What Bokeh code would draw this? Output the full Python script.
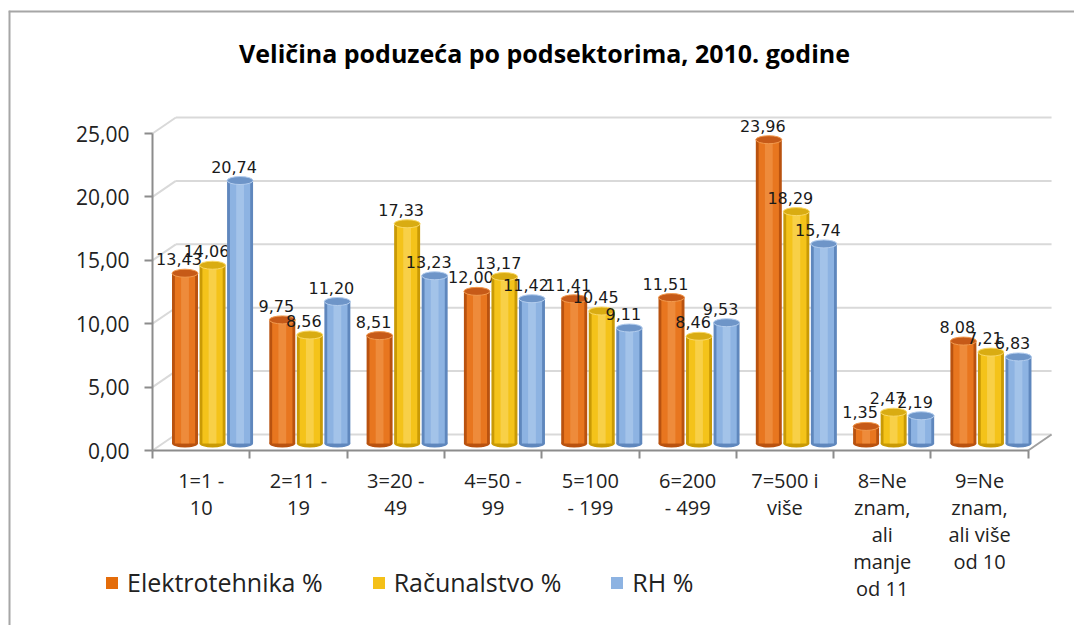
from bokeh.plotting import figure
from bokeh.models import Range1d, LinearAxis, FixedTicker, Legend, LegendItem, ColumnDataSource
from bokeh.core.properties import value
from bokeh.embed import file_html
from bokeh.resources import INLINE

# ---- data ----
categories = ["1=1 -\n10", "2=11 -\n19", "3=20 -\n49", "4=50 -\n99", "5=100\n- 199",
              "6=200\n- 499", "7=500 i\nviše", "8=Ne\nznam,\nali\nmanje\nod 11",
              "9=Ne\nznam,\nali više\nod 10"]
series_names = ["Elektrotehnika %", "Računalstvo %", "RH %"]
elektrotehnika = [13.43, 9.75, 8.51, 12.00, 11.41, 11.51, 23.96, 1.35, 8.08]
racunalstvo = [14.06, 8.56, 17.33, 13.17, 10.45, 8.46, 18.29, 2.47, 7.21]
rh = [20.74, 11.20, 13.23, 11.42, 9.11, 9.53, 15.74, 2.19, 6.83]
y_ticks = [0, 5, 10, 15, 20, 25]
y_tick_labels = ["0,00", "5,00", "10,00", "15,00", "20,00", "25,00"]
title_text = "Veličina poduzeća po podsektorima, 2010. godine"

# ---- styles ----
main_cols = ["#E8761F", "#F4C31A", "#8DB3E2"]
dark_cols = ["#B9520F", "#C99A05", "#5F87BD"]
light_cols = ["#F29A4E", "#FAD865", "#B3CDEE"]
cap_cols = ["#C65A18", "#D9AC12", "#6E95C8"]
legend_cols = ["#E46C0A", "#F4C018", "#8DB3E2"]
FONT = "Open Sans"
N = len(categories)
PX_X = 97.3      # px per category
PX_Y = 12.68     # px per unit
W, H = 1074, 625
FL, FT = 8, 10   # frame offset on canvas (border position)
ORIG_X, ORIG_Y = 152, 450   # canvas px of axis origin
DEPTH_X, DEPTH_Y = 0.24, 1.26
BAR_SHIFT_X, BAR_LIFT_Y = 0.117, 0.55
BAR_W, BAR_STEP = 0.267, 0.283

x0 = -(ORIG_X - FL) / PX_X
x1 = (W - ORIG_X) / PX_X
y1 = (ORIG_Y - FT) / PX_Y
y0 = -(H - ORIG_Y) / PX_Y

p = figure(width=W, height=H, output_backend="svg", toolbar_location=None,
           x_range=Range1d(x0, x1), y_range=Range1d(y0, y1),
           min_border_left=FL, min_border_right=0, min_border_top=FT,
           min_border_bottom=0, x_axis_type=None, y_axis_type=None)
p.extra_x_ranges = {"bars": Range1d(x0 - BAR_SHIFT_X, x1 - BAR_SHIFT_X)}
p.extra_y_ranges = {"bars": Range1d(y0 - BAR_LIFT_Y, y1 - BAR_LIFT_Y)}
p.outline_line_color = None
p.xgrid.visible = False
p.ygrid.visible = False

# chart-area border (left and top edges of the frame)
p.segment(x0=[x0, x0], y0=[y0, y1], x1=[x0, x1], y1=[y1, y1],
          line_color="#a6a6a6", line_width=4)

# title
p.text(x=[(544 - ORIG_X) / PX_X], y=[(ORIG_Y - 52) / PX_Y], text=[title_text],
       text_font=value(FONT), text_font_style="bold", text_font_size="25px",
       text_align="center", text_baseline="middle", text_color="#000000")

# back-wall gridlines, left wall and floor edges
p.segment(x0=[DEPTH_X] * len(y_ticks), y0=[t + DEPTH_Y for t in y_ticks],
          x1=[N + DEPTH_X] * len(y_ticks), y1=[t + DEPTH_Y for t in y_ticks],
          line_color="#d9d9d9", line_width=2)
p.segment(x0=[0] * len(y_ticks), y0=y_ticks, x1=[DEPTH_X] * len(y_ticks),
          y1=[t + DEPTH_Y for t in y_ticks], line_color="#d9d9d9", line_width=2)
p.segment(x0=[N], y0=[0], x1=[N + DEPTH_X], y1=[DEPTH_Y], line_color="#a0a0a0", line_width=2)

# bars (cylinders)
all_series = [elektrotehnika, racunalstvo, rh]
legend_renderers = []
for j, vals in enumerate(all_series):
    xs = [i + 0.5 + (j - 1) * BAR_STEP for i in range(N)]
    src = ColumnDataSource(dict(x=xs, top=vals,
                                lbl=[f"{v:.2f}".replace(".", ",") for v in vals]))
    p.ellipse(x="x", y=0, width=BAR_W, height=8, height_units="screen", source=src,
              fill_color=dark_cols[j], line_color=None,
              x_range_name="bars", y_range_name="bars")
    p.vbar(x="x", top="top", bottom=0, width=BAR_W, source=src,
           fill_color=dark_cols[j], line_color=None,
           x_range_name="bars", y_range_name="bars")
    p.vbar(x="x", top="top", bottom=0, width=BAR_W * 0.78, source=src,
           fill_color=main_cols[j], line_color=None,
           x_range_name="bars", y_range_name="bars")
    p.vbar(x="x", top="top", bottom=0, width=BAR_W * 0.3, source=src,
           fill_color=light_cols[j], line_color=None, fill_alpha=0.6,
           x_range_name="bars", y_range_name="bars")
    p.ellipse(x="x", y="top", width=BAR_W, height=8, height_units="screen", source=src,
              fill_color=cap_cols[j], line_color=light_cols[j], line_width=1,
              x_range_name="bars", y_range_name="bars")
    p.text(x="x", y="top", text="lbl", source=src, x_range_name="bars", y_range_name="bars",
           text_font=value("DejaVu Sans"), text_font_size="16px", text_color="#1a1a1a",
           text_align="center", text_baseline="bottom", x_offset=-6, y_offset=-8)
    # legend swatch renderer (hidden on the chart itself)
    lr = p.vbar(x="x", top="top", bottom=0, width=BAR_W, source=src,
                fill_color=legend_cols[j], line_color=None, visible=False,
                x_range_name="bars", y_range_name="bars")
    legend_renderers.append(lr)

# axes
yax = LinearAxis(ticker=FixedTicker(ticks=y_ticks), fixed_location=0,
                 major_label_overrides={t: l for t, l in zip(y_ticks, y_tick_labels)})
yax.axis_line_color = "#8c8c8c"
yax.axis_line_width = 2
yax.major_tick_line_color = "#8c8c8c"
yax.major_tick_line_width = 2
yax.major_tick_out = 8
yax.major_tick_in = 0
yax.minor_tick_line_color = None
yax.major_label_text_font = FONT
yax.major_label_text_font_size = "21px"
yax.major_label_text_color = "#222222"
yax.major_label_standoff = 15
yax.bounds = (0, 25)
p.add_layout(yax, "left")

centers = [i + 0.5 for i in range(N)]
xax = LinearAxis(ticker=FixedTicker(ticks=centers, minor_ticks=list(range(N + 1))),
                 fixed_location=0,
                 major_label_overrides={c: l for c, l in zip(centers, categories)})
xax.axis_line_color = "#8c8c8c"
xax.axis_line_width = 2
xax.major_tick_line_color = None
xax.major_tick_out = 8
xax.minor_tick_line_color = "#8c8c8c"
xax.minor_tick_line_width = 2
xax.minor_tick_out = 8
xax.minor_tick_in = 0
xax.major_label_text_font = FONT
xax.major_label_text_font_size = "20px"
xax.major_label_text_color = "#222222"
xax.major_label_text_line_height = 1.0
xax.major_label_standoff = 8
xax.bounds = (0, N)
p.add_layout(xax, "below")

legend = Legend(items=[LegendItem(label=n, renderers=[r]) for n, r in zip(series_names, legend_renderers)],
                orientation="horizontal", location=(96, 26))
legend.label_text_font = FONT
legend.label_text_font_size = "25px"
legend.label_text_color = "#222222"
legend.glyph_width = 15
legend.glyph_height = 15
legend.label_standoff = 8
legend.spacing = 48
legend.padding = 4
legend.margin = 0
legend.border_line_color = None
legend.background_fill_alpha = 0
p.add_layout(legend, "center")

open("out.html", "w").write(file_html(p, INLINE))
